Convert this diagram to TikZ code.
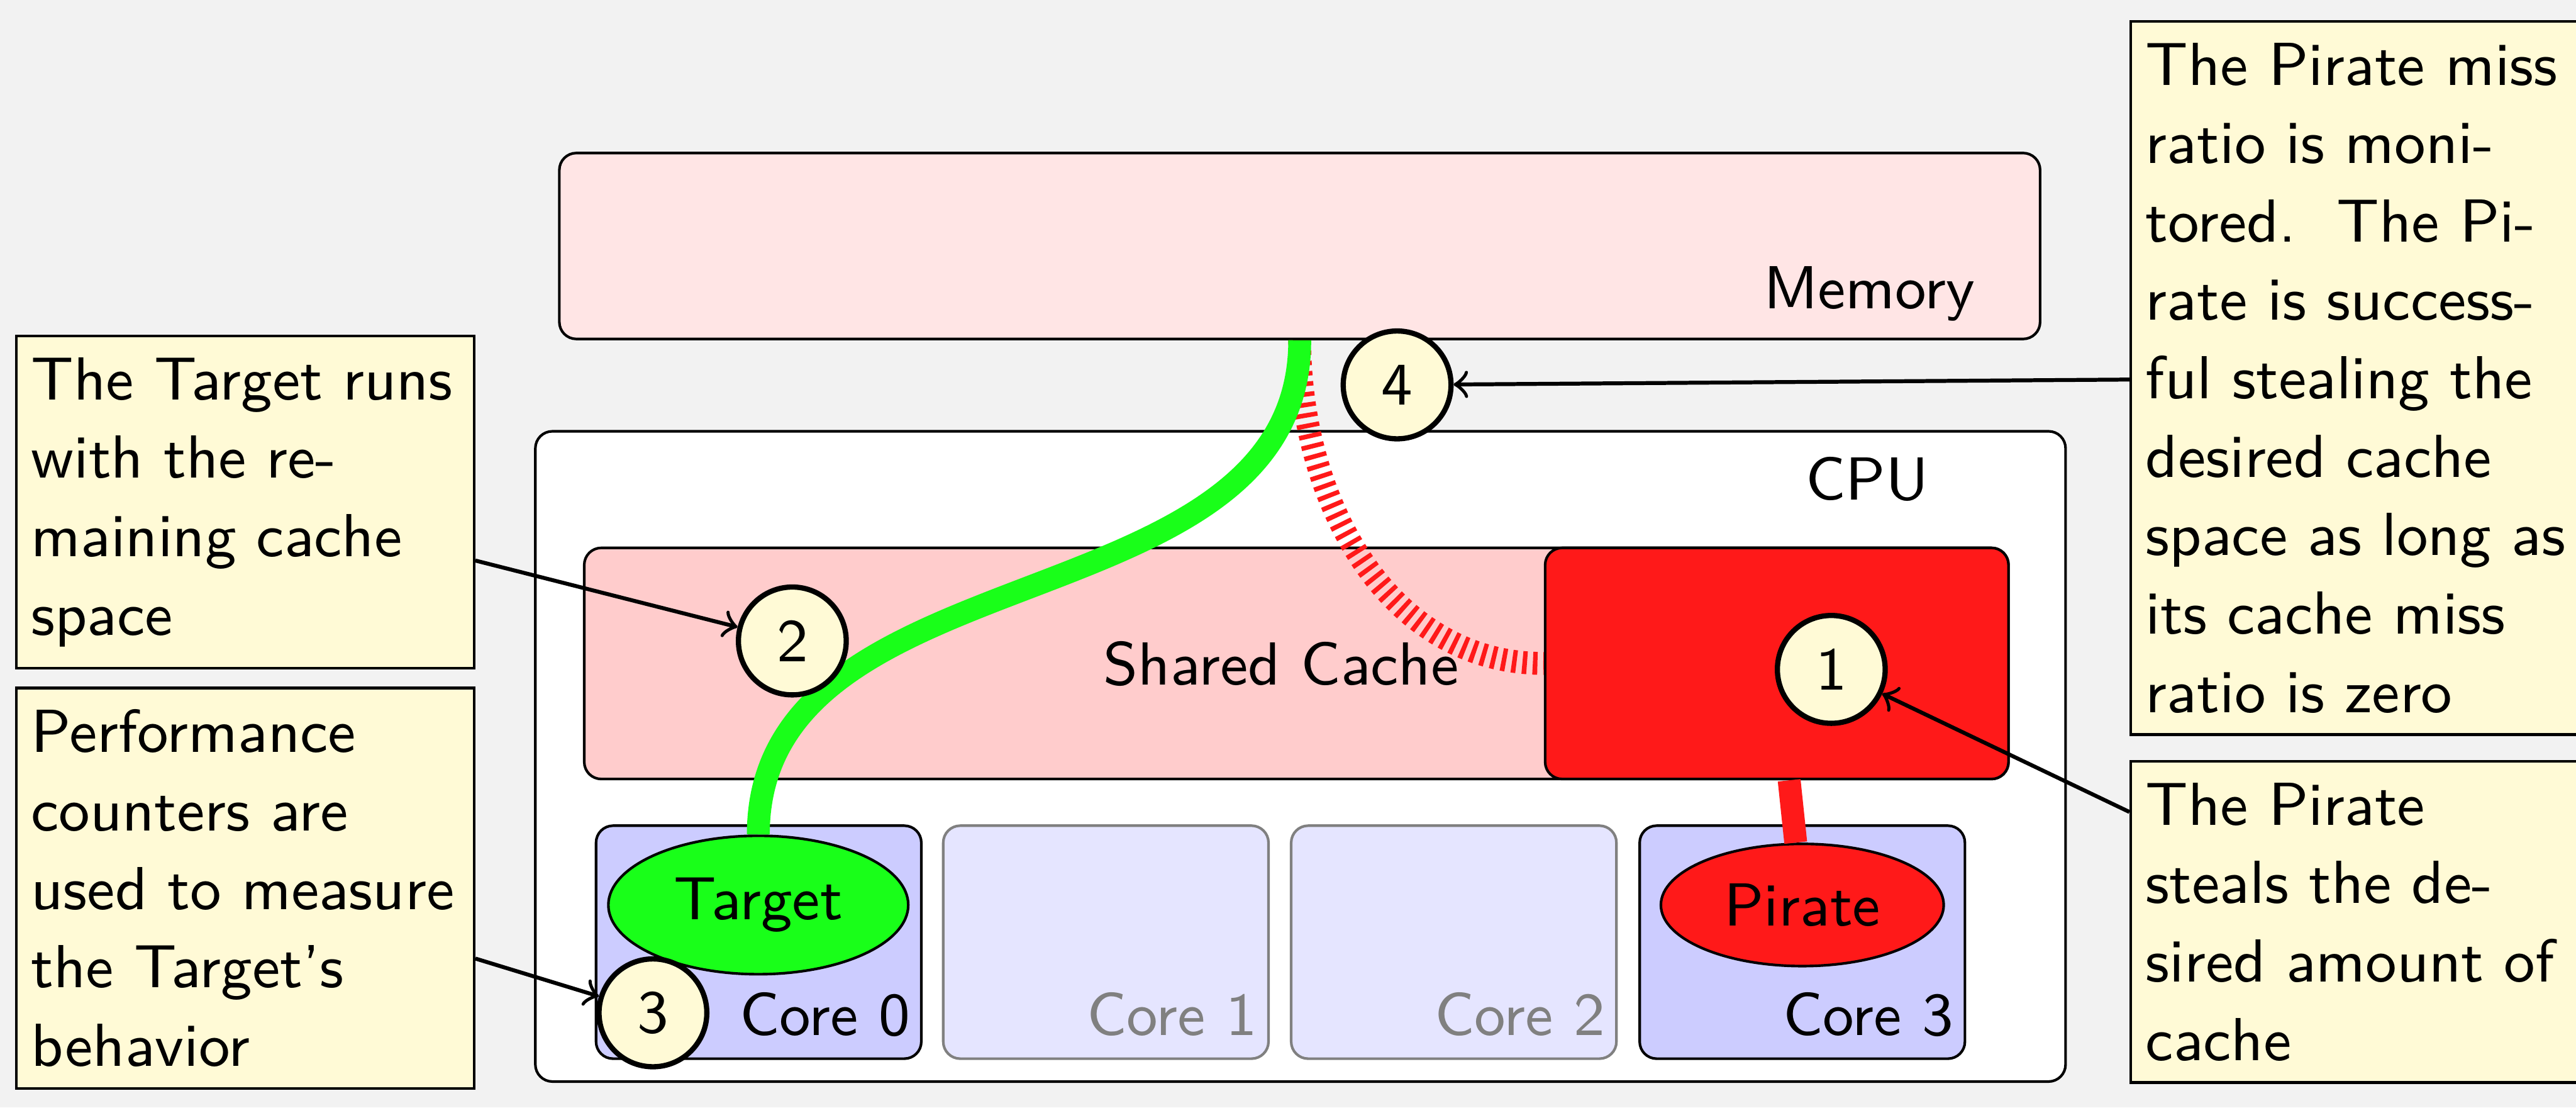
\documentclass[tikz,border=0pt]{standalone}
\usetikzlibrary{shapes,arrows,positioning}
\definecolor{noteyellow}{RGB}{255,250,214}

\begin{document}
\begin{tikzpicture}[>=to, font=\sffamily\fontsize{9.3}{12}\selectfont]
        \tikzstyle{box}=[draw, rounded corners=2.6pt, inner sep=0pt]
        \tikzstyle{core}=[box, fill=blue!20, minimum width=1.75cm, minimum height=1.253cm]
        \tikzstyle{idle core}=[core, draw=gray, fill=blue!10]
        \tikzstyle{tag}=[anchor=base east, inner sep=0pt]
        \tikzstyle{prog}=[draw, ellipse]
        \tikzstyle{stepmark}=[draw, circle, thick, fill=noteyellow, minimum size=0.58cm, inner sep=0pt]
        \tikzstyle{note}=[draw, fill=noteyellow, text width=65.5pt, align=left, inner xsep=2.3pt, inner ysep=3.3pt, anchor=north west]
        \tikzstyle{wire}=[line width=3.5pt]
        \tikzstyle{callout}=[->, semithick]

        \useasboundingbox (0,0) rectangle (13.86,-5.957);
        \fill[black!5] (0,0) rectangle (13.86,-5.957);

        \node[box, fill=red!10, minimum width=7.967cm, minimum height=1cm] (memory) at (6.993,-1.323) {};
        \node[tag] at (10.633,-1.66) {Memory};

        \node[box, fill=white, minimum width=8.233cm, minimum height=3.497cm] (cpu) at (6.997,-4.068) {};
        \node[tag] at (10.383,-2.69) {CPU};

        \node[box, fill=red!20, minimum width=7.663cm, minimum height=1.243cm] (cache) at (6.975,-3.568) {};
        \node at (6.893,-3.57) {Shared Cache};
        \node[box, fill=red!90, minimum width=2.493cm, minimum height=1.243cm, anchor=east] (stolen) at (cache.east) {};

        \foreach \i/\x/\s/\c in {0/4.082/core/black, 1/5.95/idle core/gray, 2/7.822/idle core/gray, 3/9.697/core/black} {
            \node[\s] (core\i) at (\x,-5.067) {};
            \node[tag, text=\c] at ([shift={(-0.06,0.133)}]core\i.south east) {Core \i};
        }

        \node[prog, fill=green!90] (target) at (4.08,-4.867) {Target};
        \node[prog, fill=red!90]   (pirate) at (9.697,-4.867) {Pirate};

        \draw[wire, red!90, dash pattern=on 0.7pt off 0.9pt] (memory.south) to[out=-90,in=180] (stolen.west);
        \draw[wire, green!90] (memory.south) to[out=-90,in=90] (target.north);
        \draw[wire, red!90] (stolen) -- (pirate);

        \node[stepmark] (s1) at (9.853,-3.6)   {1};
        \node[stepmark] (s2) at (4.263,-3.447) {2};
        \node[stepmark] (s3) at (3.513,-5.447) {3};
        \node[stepmark] (s4) at (7.517,-2.07)  {4};

        \node[note] (n2) at (0.08,-1.8)    {The Target runs\\ with the re-\\maining cache\\ space};
        \node[note] (n3) at (0.08,-3.693)  {Performance\\ counters are\\ used to measure\\ the Target's\\ behavior};
        \node[note] (n4) at (11.457,-0.107) {The Pirate miss\\ ratio is moni-\\tored.\ \ The Pi-\\rate is success-\\ful stealing the\\ desired cache\\ space as long as\\ its cache miss\\ ratio is zero};
        \node[note] (n1) at (11.457,-4.087) {The Pirate\\ steals the de-\\sired amount of\\ cache};

        \draw[callout] (n2) -- (s2);
        \draw[callout] (n3) -- (s3);
        \draw[callout] (n4) -- (s4);
        \draw[callout] (n1) -- (s1);
\end{tikzpicture}
\end{document}
